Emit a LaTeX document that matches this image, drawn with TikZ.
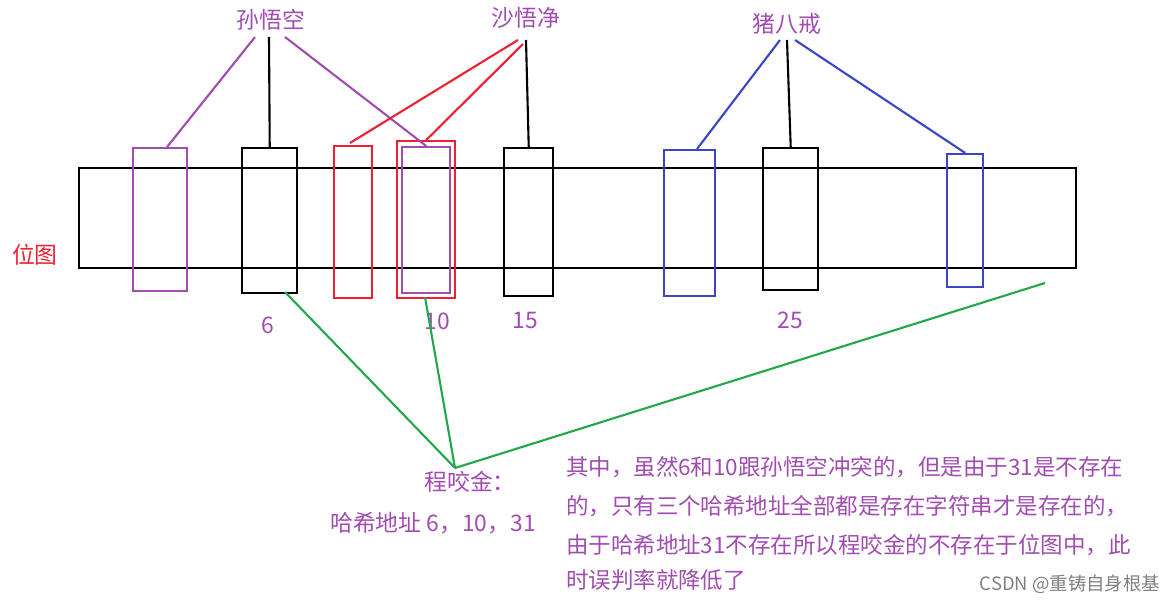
\documentclass[tikz,border=0pt]{standalone}
\usepackage{fontspec}
\setmainfont{Noto Sans CJK SC}
\usetikzlibrary{positioning}
\definecolor{lbl}{HTML}{A04CB0}
\definecolor{hred}{HTML}{EE2030}
\definecolor{hblue}{HTML}{3A45C8}
\definecolor{hgreen}{HTML}{22A84A}
\tikzset{
	slot/.style={draw, line width=1.4pt, inner sep=0pt, anchor=north west},
	tag/.style={text=lbl, font=\fontsize{13}{15}\selectfont, inner sep=0pt},
	note/.style={text=lbl, font=\fontsize{12.8}{20}\selectfont, align=left, anchor=north west, inner sep=0pt}
}
\begin{document}
\begin{tikzpicture}[x=0.02cm, y=-0.02cm, line width=1.2pt]
	\useasboundingbox (0,0) rectangle (1171,605);
	% bitmap
	\node[slot, minimum width=19.94cm, minimum height=2cm] (map) at (78,167) {};
	\node[tag, text=hred] (mapname) at (35,255) {位图};
	% hash slots
	\node[slot, draw=lbl, minimum width=1.08cm, minimum height=2.86cm] (s1) at (132,147) {};
	\node[slot, minimum width=1.1cm, minimum height=2.9cm] (s6) at (241,147) {};
	\node[slot, draw=hred, minimum width=0.76cm, minimum height=3.04cm] (s8) at (333,145) {};
	\node[slot, draw=hred, minimum width=1.16cm, minimum height=3.14cm] (s10r) at (396,140) {};
	\node[slot, draw=lbl, minimum width=0.96cm, minimum height=2.92cm] (s10) at (401,146) {};
	\node[slot, minimum width=0.98cm, minimum height=2.96cm] (s15) at (503,147) {};
	\node[slot, draw=hblue, minimum width=1.02cm, minimum height=2.92cm] (s20) at (663,149) {};
	\node[slot, minimum width=1.1cm, minimum height=2.84cm] (s25) at (762,147) {};
	\node[slot, draw=hblue, minimum width=0.72cm, minimum height=2.66cm] (s31) at (946,153) {};
	% names
	\node[tag] (sun) at (271,20) {孙悟空};
	\node[tag] (sha) at (526,18) {沙悟净};
	\node[tag] (zhu) at (787,24) {猪八戒};
	\coordinate (sunL) at (255,37);
	\coordinate (sunM) at (269,37);
	\coordinate (sunR) at (285,37);
	\coordinate (shaL) at (518,40);
	\coordinate (shaM) at (526,40);
	\coordinate (shaR) at (523,44);
	\coordinate (zhuL) at (780,40);
	\coordinate (zhuM) at (787,40);
	\coordinate (zhuR) at (795,40);
	\draw[lbl] (sunL) -- (167,147);
	\draw (sunM) -- (s6.north);
	\draw[lbl] (sunR) -- (s10.north);
	\draw[hred] (shaL) -- (350,143);
	\draw[hred] (shaR) -- (s10r.north);
	\draw (shaM) -- (s15.north);
	\draw[hblue] (zhuL) -- (697,149);
	\draw (zhuM) -- (s25.north);
	\draw[hblue] (zhuR) -- (s31.north);
	% numbers
	\node[tag] (n6) at (268,325) {6};
	\node[tag] (n10) at (437,321) {10};
	\node[tag] (n15) at (525,321) {15};
	\node[tag] (n25) at (790,320) {25};
	% query
	\coordinate (q) at (455,468);
	\coordinate (q31) at (1045,283);
	\draw[hgreen] (q) -- (285,292);
	\draw[hgreen] (q) -- (425,297);
	\draw[hgreen] (q) -- (q31);
	\node[tag] (cheng) at (470,482) {程咬金：};
	\node[tag] (addr) at (433,523) {哈希地址 6，10，31};
	\node[note] (txt) at (565,455) {其中，虽然6和10跟孙悟空冲突的，但是由于31是不存在\\[0.08cm]的，只有三个哈希地址全部都是存在字符串才是存在的，\\[0.08cm]由于哈希地址31不存在所以程咬金的不存在于位图中，此\\时误判率就降低了};
	\node[text=gray, font=\fontsize{10.5}{12}\selectfont, inner sep=0pt] (mark) at (1070,584) {CSDN @重铸自身根基};
\end{tikzpicture}
\end{document}
